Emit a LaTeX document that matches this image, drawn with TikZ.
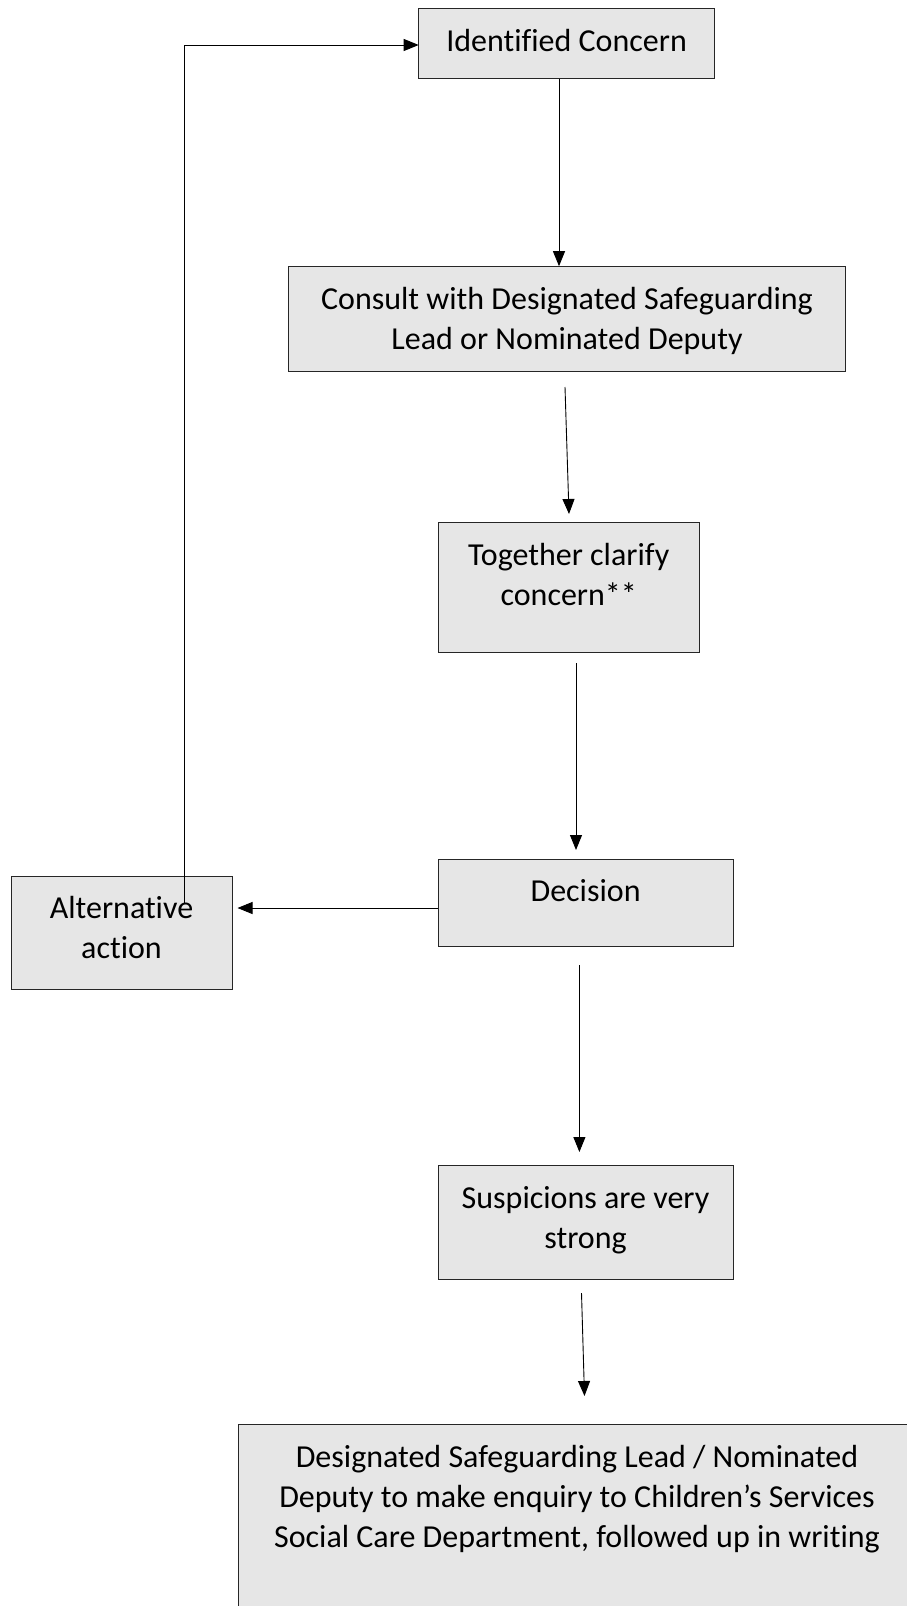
\documentclass[tikz,border=0pt]{standalone}
\usepackage{fontspec}
\setmainfont[Ligatures=NoCommon]{Carlito}
\usetikzlibrary{arrows.meta}
\definecolor{boxgray}{HTML}{E6E6E6}
\begin{document}
\begin{tikzpicture}[x=1pt,y=-1pt,
  box/.style={draw=black!85, fill=boxgray, line width=0.9pt, inner sep=0pt},
  lbl/.style={font=\fontsize{32}{40}\selectfont, align=center, inner sep=0pt},
  arr/.style={line width=0.9pt, -{Triangle[length=15pt,width=12pt]}}]
\useasboundingbox (0,0) rectangle (907,1606);
% boxes
\node[box, minimum width=295.8pt, minimum height=70.6pt]  (b1)  at (566.6,43.5) {};
\node[box, minimum width=556.9pt, minimum height=105.4pt] (b2)  at (567.15,318.9) {};
\node[box, minimum width=261.1pt, minimum height=130pt]   (b3)  at (568.65,587.1) {};
\node[box, minimum width=294.9pt, minimum height=87pt]    (b4)  at (585.55,903.4) {};
\node[box, minimum width=221.1pt, minimum height=113.6pt] (alt) at (121.85,933.1) {};
\node[box, minimum width=294.9pt, minimum height=114.6pt] (b5)  at (585.55,1222.3) {};
\node[box, minimum width=677.5pt, minimum height=276pt]   (b6)  at (577.25,1562) {};
% texts
\node[lbl] (t1) at (566.6,41) {Identified Concern};
\node[lbl] (t2) at (567,321) {Consult with Designated Safeguarding\\Lead or Nominated Deputy};
\node[lbl] (t3) at (568.7,574) {Together clarify\\concern**};
\node[lbl] (t4) at (585.6,890.6) {Decision};
\node[lbl] (t5) at (585.5,1220) {Suspicions are very\\strong};
\node[lbl] (t6) at (577,1499) {Designated Safeguarding Lead / Nominated\\Deputy to make enquiry to Children’s Services\\Social Care Department, followed up in writing};
% connector ends
\coordinate (a1s) at (559,78.8);   \coordinate (a1e) at (559,266.2);
\coordinate (a2s) at (565,387);    \coordinate (a2e) at (569,514);
\coordinate (a3s) at (576,663);    \coordinate (a3e) at (576,850);
\coordinate (a4s) at (438.1,908);  \coordinate (a4e) at (237.5,908);
\coordinate (a5s) at (579.4,965);  \coordinate (a5e) at (579.4,1152);
\coordinate (a6s) at (581.5,1293); \coordinate (a6e) at (584.5,1396);
\coordinate (ls) at (184.3,903);   \coordinate (le) at (418.7,45);
% connectors
\draw[arr] (a1s) -- (a1e);
\draw[arr] (a2s) -- (a2e);
\draw[arr] (a3s) -- (a3e);
\draw[arr] (a4s) -- (a4e);
\draw[arr] (a5s) -- (a5e);
\draw[arr] (a6s) -- (a6e);
% text of alternative box, loop line drawn over it
\node[lbl] (talt) at (121.5,927) {Alternative\\action};
\draw[arr] (ls) |- (le);
\end{tikzpicture}
\end{document}
